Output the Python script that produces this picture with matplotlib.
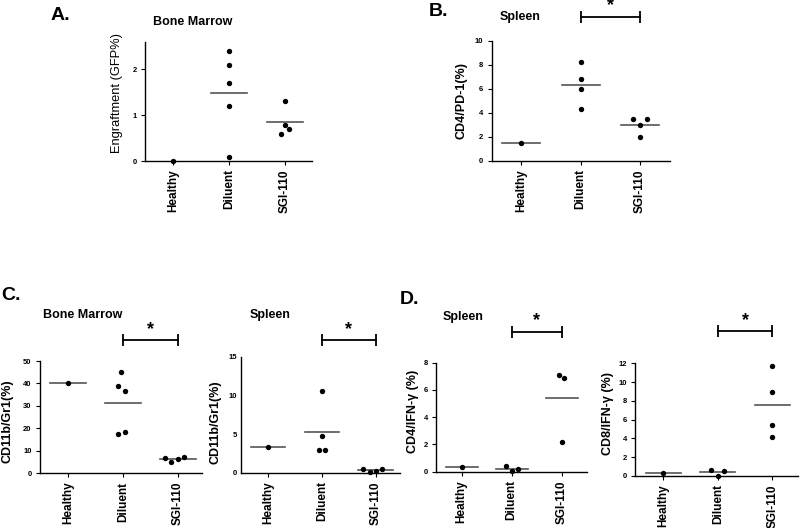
import numpy as np
import matplotlib
matplotlib.use('Agg')
import matplotlib.pyplot as plt
import matplotlib.transforms as mtransforms

plt.rcParams['font.family'] = ['Liberation Sans', 'DejaVu Sans']

GROUPS = ['Healthy', 'Diluent', 'SGI-110']

# ── Data ──────────────────────────────────────────────────────────────────────
# A. bone marrow engraftment (GFP%)
a_healthy = [0.0]
a_diluent = [2.39, 2.09, 1.69, 1.19, 0.09]
a_sgi = [1.30, 0.79, 0.69, 0.59]
a_means = [np.nan, 1.49, 0.84]

# B. spleen CD4/PD-1 (%)
b_healthy = [1.45]
b_diluent = [8.2, 6.8, 6.0, 4.3]
b_sgi = [3.5, 3.5, 3.0, 2.0]
b_means = [1.45, 6.3, 2.95]

# C. CD11b/Gr1 (%), bone marrow and spleen
c_bm_healthy = [40.0]
c_bm_diluent = [45.0, 38.9, 36.6, 17.4, 18.3]
c_bm_sgi = [6.7, 5.0, 6.5, 7.1]
c_bm_means = [40.0, 31.2, 6.2]

c_sp_healthy = [3.3]
c_sp_diluent = [10.6, 4.7, 3.0, 3.0]
c_sp_sgi = [0.5, 0.13, 0.26, 0.5]
c_sp_means = [3.3, 5.3, 0.35]

# D. spleen IFN-gamma, CD4 and CD8
d_cd4_healthy = [0.37]
d_cd4_diluent = [0.42, 0.07, 0.17]
d_cd4_sgi = [7.07, 6.87, 2.17]
d_cd4_means = [0.37, 0.2, 5.39]

d_cd8_healthy = [0.3]
d_cd8_diluent = [0.68, 0.0, 0.54]
d_cd8_sgi = [11.75, 8.9, 5.46, 4.14]
d_cd8_means = [0.3, 0.43, 7.54]

# ── Style / layout ────────────────────────────────────────────────────────────
W, H = 800, 528
fig = plt.figure(figsize=(W / 100, H / 100), dpi=100)
fig.patch.set_facecolor('white')

BOLD = dict(fontweight='bold')
MEAN_HW = 0.32


def fx(x):
    return x / W


def fy(y):
    return 1 - y / H


def panel(box, xlim, ylim, yticks, vals, means, jitter, ylabel, ylab_xy,
          ytick_len=3, sig=None, ylab_weight='bold', ylab_size=9):
    l, r, t, b = box
    ax = fig.add_axes([fx(l), fy(b), (r - l) / W, (b - t) / H])
    for i, (v, off) in enumerate(zip(vals, jitter)):
        ax.scatter(i + np.array(off), v, s=15, color='black', linewidths=0,
                   zorder=3, clip_on=False)
        if not np.isnan(means[i]):
            ax.plot([i - MEAN_HW, i + MEAN_HW], [means[i], means[i]],
                    color='#555555', lw=1.2, zorder=2, clip_on=False)
    ax.set_xlim(xlim)
    ax.set_ylim(ylim)
    ax.set_xticks(range(len(GROUPS)))
    ax.set_xticklabels(GROUPS, rotation=90, fontsize=8.5, **BOLD)
    ax.set_yticks(yticks)
    ax.set_yticklabels([str(v) for v in yticks], fontsize=5.5, **BOLD)
    for s in ['top', 'right']:
        ax.spines[s].set_visible(False)
    for s in ['left', 'bottom']:
        ax.spines[s].set_linewidth(1.0)
    ax.tick_params(axis='x', direction='out', length=3, width=0.8, pad=3)
    ax.tick_params(axis='y', direction='out', length=ytick_len, width=0.8, pad=3)
    fig.text(fx(ylab_xy[0]), fy(ylab_xy[1]), ylabel, rotation=90,
             ha='center', va='center', fontsize=ylab_size, fontweight=ylab_weight)
    if sig is not None:
        trans = mtransforms.blended_transform_factory(ax.transData, ax.transAxes)
        x1, x2, yb = sig
        ax.plot([x1, x2], [yb, yb], color='black', lw=1.3, marker='|',
                markersize=8, mew=1.3, transform=trans, clip_on=False)
        ax.text((x1 + x2) / 2, yb + 0.02, '*', transform=trans, ha='center',
                va='bottom', fontsize=13, **BOLD)
    return ax


# A
panel((145, 312, 41.7, 161), (-0.5, 2.49), (0, 2.6), [0, 1, 2],
      [a_healthy, a_diluent, a_sgi], a_means,
      [[0], [0, 0, 0, 0, 0], [0, 0, 0.07, -0.06]],
      'Engraftment (GFP%)', (117, 93), ylab_weight='normal', ylab_size=9.3)
fig.text(fx(60), fy(15), 'A.', ha='center', va='center', fontsize=14, **BOLD)
fig.text(fx(193), fy(21.7), 'Bone Marrow', ha='center', va='center', fontsize=9, **BOLD)

# B
panel((491.7, 670, 40.7, 160.7), (-0.5, 2.51), (0, 10), [0, 2, 4, 6, 8, 10],
      [b_healthy, b_diluent, b_sgi], b_means,
      [[0], [0, 0, 0, 0], [-0.12, 0.12, 0, 0]],
      'CD4/PD-1(%)', (461.7, 100.8), sig=(1, 2, 1.2))
fig.text(fx(438), fy(12), 'B.', ha='center', va='center', fontsize=14, **BOLD)
fig.text(fx(520), fy(16.7), 'Spleen', ha='center', va='center', fontsize=9, **BOLD)

# C
panel((40, 201.7, 361, 473.3), (-0.51, 2.43), (0, 50), [0, 10, 20, 30, 40, 50],
      [c_bm_healthy, c_bm_diluent, c_bm_sgi], c_bm_means,
      [[0], [-0.03, -0.09, 0.03, -0.09, 0.03], [-0.24, -0.12, 0, 0.11]],
      'CD11b/Gr1(%)', (8, 420.8), sig=(1, 2, 1.187))
panel((241, 400, 356.7, 472.7), (-0.5, 2.45), (0, 15), [0, 5, 10, 15],
      [c_sp_healthy, c_sp_diluent, c_sp_sgi], c_sp_means,
      [[0], [0, 0, -0.06, 0.06], [-0.23, -0.1, 0, 0.12]],
      'CD11b/Gr1(%)', (216, 421.7), ytick_len=0, sig=(1, 2, 1.144))
fig.text(fx(11), fy(295), 'C.', ha='center', va='center', fontsize=14, **BOLD)
fig.text(fx(83), fy(315), 'Bone Marrow', ha='center', va='center', fontsize=9, **BOLD)
fig.text(fx(270), fy(315), 'Spleen', ha='center', va='center', fontsize=9, **BOLD)

# D
panel((436, 586.7, 362.7, 471.7), (-0.51, 2.5), (0, 8), [0, 2, 4, 6, 8],
      [d_cd4_healthy, d_cd4_diluent, d_cd4_sgi], d_cd4_means,
      [[0], [-0.11, 0.01, 0.13], [-0.05, 0.05, 0]],
      'CD4/IFN-γ (%)', (413.3, 411.7), sig=(1, 2, 1.284))
panel((635, 798, 363.3, 476), (-0.52, 2.47), (0, 12), [0, 2, 4, 6, 8, 10, 12],
      [d_cd8_healthy, d_cd8_diluent, d_cd8_sgi], d_cd8_means,
      [[0], [-0.12, 0, 0.11], [0, 0, 0, 0]],
      'CD8/IFN-γ (%)', (608.3, 413.3), sig=(1, 2, 1.287))
fig.text(fx(410), fy(300), 'D.', ha='center', va='center', fontsize=14, **BOLD)
fig.text(fx(463), fy(316.7), 'Spleen', ha='center', va='center', fontsize=9, **BOLD)

fig.savefig('out.png', dpi=100, facecolor='white')
